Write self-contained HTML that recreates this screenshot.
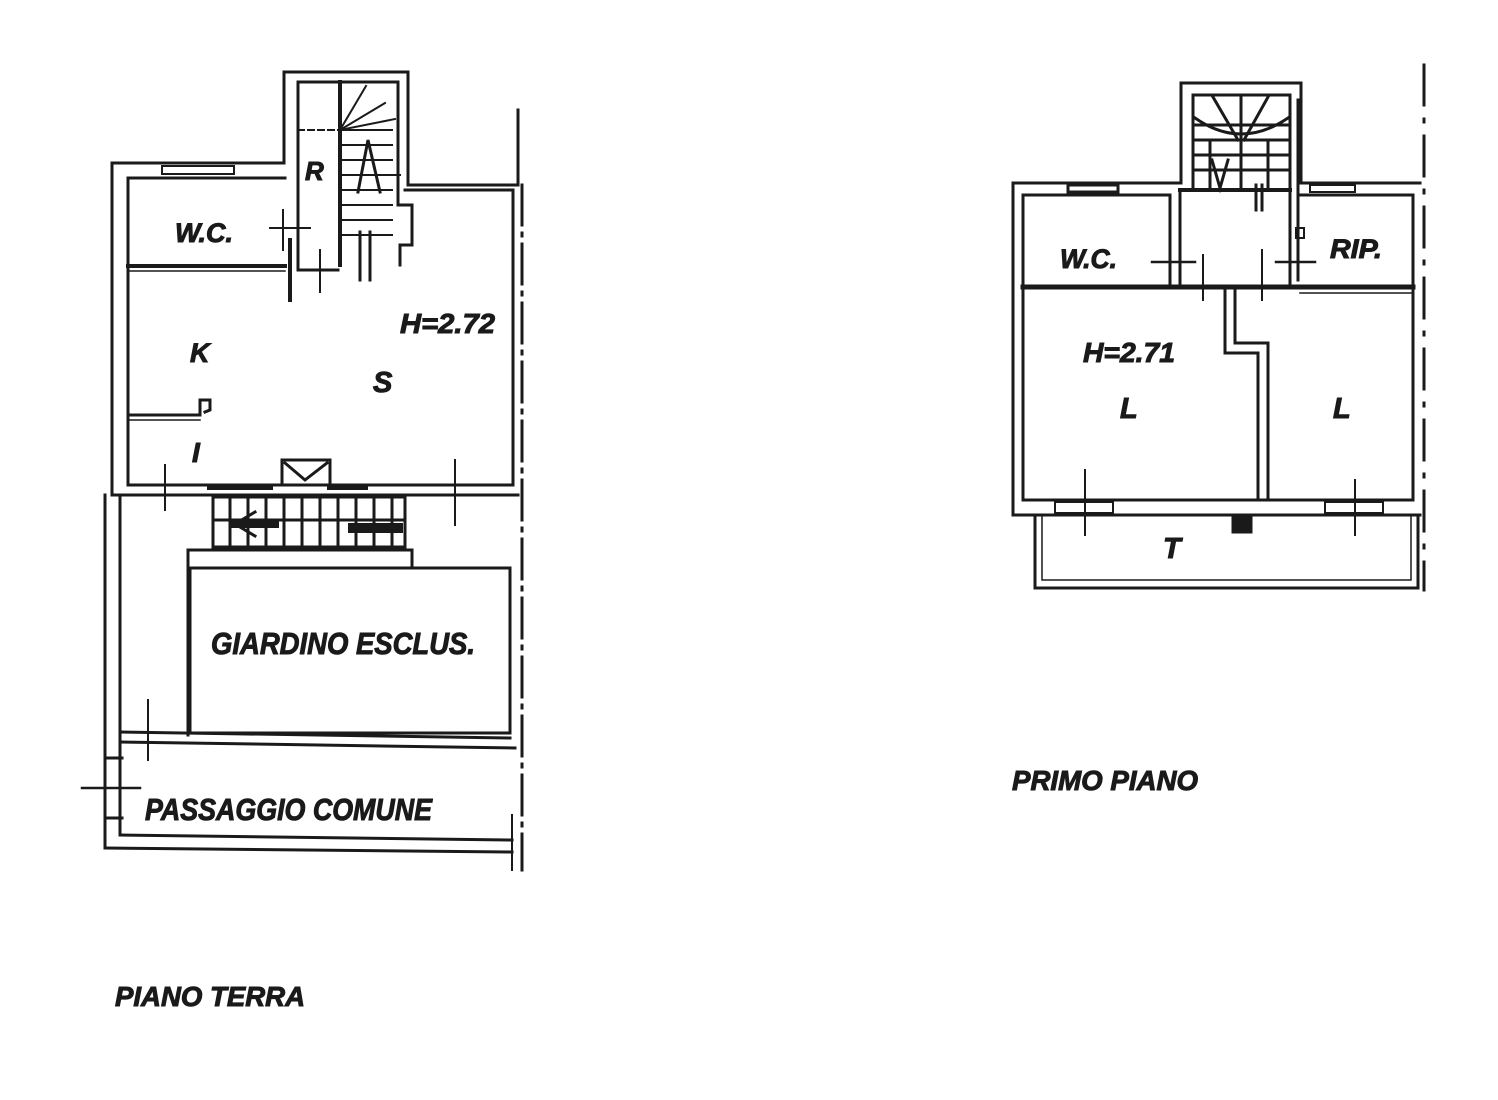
<!DOCTYPE html>
<html><head><meta charset="utf-8"><style>
html,body{margin:0;padding:0;background:#fff;}
svg{display:block;}
text{font-family:"Liberation Sans Narrow","Liberation Sans",sans-serif;font-weight:bold;font-style:italic;fill:#1a1a1a;stroke:#1a1a1a;stroke-width:1;}
</style></head><body>
<svg width="1498" height="1100" viewBox="0 0 1498 1100" xmlns="http://www.w3.org/2000/svg">
<g stroke="#1a1a1a" fill="none" stroke-width="3" stroke-linecap="square">
<!-- LEFT PLAN -->
<polyline points="112,495 112,163 284,163 284,72 408,72 408,185 518,185"/>
<polyline points="128,485 128,178 285,178"/>
<polyline points="298,268 298,82 398,82 398,205 412,205 412,245 400,245 400,265"/>
<line x1="513" y1="190" x2="513" y2="485"/>
<line x1="405" y1="190" x2="513" y2="190"/>
<line x1="518" y1="110" x2="518" y2="185"/>
<line x1="522" y1="185" x2="522" y2="870" stroke-dasharray="40,8,3,8"/>
<rect x="162" y="166" width="72" height="8" stroke-width="2"/>
<line x1="340" y1="82" x2="340" y2="265" stroke-width="4"/>
<line x1="298" y1="130" x2="340" y2="130" stroke-dasharray="6,4" stroke-width="2"/>
<line x1="340" y1="130" x2="392" y2="130" stroke-width="2"/>
<line x1="340" y1="130" x2="366" y2="86" stroke-width="2"/>
<line x1="340" y1="130" x2="385" y2="103" stroke-width="2"/>
<line x1="340" y1="130" x2="395" y2="119" stroke-width="2"/>
<line x1="340" y1="145" x2="392" y2="145" stroke-width="2"/>
<line x1="340" y1="160" x2="392" y2="160" stroke-width="2"/>
<line x1="340" y1="175" x2="400" y2="175" stroke-width="2"/>
<line x1="340" y1="190" x2="392" y2="190" stroke-width="2"/>
<line x1="340" y1="205" x2="392" y2="205" stroke-width="2"/>
<line x1="340" y1="220" x2="392" y2="220" stroke-width="2"/>
<line x1="340" y1="235" x2="392" y2="235" stroke-width="2"/>
<polyline points="358,192 368,140 380,192" stroke-width="3"/>
<line x1="360" y1="232" x2="360" y2="280" stroke-width="3"/>
<line x1="370" y1="232" x2="370" y2="280" stroke-width="3"/>
<polyline points="298,268 298,270 338,270"/>
<line x1="290" y1="240" x2="290" y2="300" stroke-width="4"/>
<line x1="270" y1="228" x2="310" y2="228" stroke-width="2"/>
<line x1="283" y1="210" x2="283" y2="250" stroke-width="2"/>
<line x1="320" y1="250" x2="320" y2="292" stroke-width="2"/>
<line x1="128" y1="266" x2="285" y2="266" stroke-width="4"/>
<line x1="128" y1="271" x2="285" y2="271" stroke-width="1.5"/>
<polyline points="128,415 200,415 200,400 210,400 210,410 205,412"/>
<line x1="128" y1="420" x2="200" y2="420" stroke-width="1.5"/>
<line x1="112" y1="495" x2="518" y2="495"/>
<line x1="128" y1="485" x2="513" y2="485"/>
<rect x="282" y="460" width="48" height="25" stroke-width="3"/>
<polyline points="285,463 305,480 327,463" stroke-width="3"/>
<line x1="165" y1="465" x2="165" y2="510" stroke-width="2"/>
<line x1="455" y1="460" x2="455" y2="525" stroke-width="2"/>
<line x1="210" y1="487" x2="270" y2="487" stroke-width="6"/>
<line x1="330" y1="487" x2="365" y2="487" stroke-width="6"/>
<rect x="213" y="497" width="192" height="50"/>
<g stroke-width="3">
<line x1="230" y1="497" x2="230" y2="547"/><line x1="248" y1="497" x2="248" y2="547"/>
<line x1="266" y1="497" x2="266" y2="547"/><line x1="284" y1="497" x2="284" y2="547"/>
<line x1="302" y1="497" x2="302" y2="547"/><line x1="320" y1="497" x2="320" y2="547"/>
<line x1="338" y1="497" x2="338" y2="547"/><line x1="356" y1="497" x2="356" y2="547"/>
<line x1="374" y1="497" x2="374" y2="547"/><line x1="392" y1="497" x2="392" y2="547"/>
<line x1="213" y1="520" x2="405" y2="520"/>
</g>
<line x1="235" y1="524" x2="275" y2="524" stroke-width="8"/>
<polyline points="255,512 235,524 255,536" stroke-width="3"/>
<line x1="353" y1="528" x2="398" y2="528" stroke-width="10"/>
<polyline points="188,735 188,550 412,550 412,567"/>
<rect x="190" y="568" width="320" height="165"/>
<line x1="105" y1="495" x2="105" y2="848"/>
<line x1="120" y1="495" x2="120" y2="835"/>
<line x1="120" y1="732" x2="510" y2="738"/>
<line x1="120" y1="742" x2="515" y2="748"/>
<line x1="120" y1="835" x2="512" y2="840"/>
<line x1="105" y1="848" x2="512" y2="852"/>
<line x1="512" y1="815" x2="512" y2="870" stroke-width="2"/>
<line x1="148" y1="700" x2="148" y2="760" stroke-width="2"/>
<line x1="82" y1="788" x2="140" y2="788" stroke-width="2.5"/>
<line x1="105" y1="758" x2="122" y2="758" stroke-width="3"/>
<line x1="105" y1="818" x2="122" y2="818" stroke-width="3"/>

<!-- RIGHT PLAN -->
<polyline points="1013,515 1013,183 1181,183 1181,83 1301,83 1301,183 1420,183"/>
<polyline points="1023,500 1023,195 1170,195 1170,283"/>
<polyline points="1193,190 1193,95 1290,95 1290,190"/>
<line x1="1298" y1="100" x2="1298" y2="280" stroke-width="3"/>
<polyline points="1298,195 1413,195 1413,500"/>
<line x1="1180" y1="190" x2="1180" y2="285"/>
<line x1="1180" y1="190" x2="1290" y2="190" stroke-width="4"/>
<line x1="1290" y1="190" x2="1290" y2="285"/>
<rect x="1068" y="185" width="50" height="7" stroke-width="3"/>
<rect x="1310" y="185" width="45" height="7" stroke-width="2"/>
<line x1="1023" y1="287" x2="1413" y2="287" stroke-width="5"/>
<line x1="1300" y1="293" x2="1413" y2="293" stroke-width="1.5"/>
<g stroke-width="3">
<line x1="1193" y1="125" x2="1290" y2="125"/>
<line x1="1193" y1="140" x2="1290" y2="140"/>
<line x1="1193" y1="155" x2="1290" y2="155"/>
<line x1="1193" y1="170" x2="1290" y2="170"/>
<line x1="1241" y1="95" x2="1241" y2="190"/>
<line x1="1210" y1="140" x2="1210" y2="190"/>
<line x1="1268" y1="140" x2="1268" y2="190"/>
<line x1="1213" y1="97" x2="1238" y2="140"/>
<line x1="1268" y1="97" x2="1244" y2="140"/>
<path d="M1195,118 Q1241,150 1288,118"/>
<polyline points="1212,160 1220,188 1228,160"/>
<line x1="1256" y1="185" x2="1256" y2="210"/>
<line x1="1262" y1="185" x2="1262" y2="210"/>
</g>
<line x1="1152" y1="262" x2="1195" y2="262" stroke-width="2.5"/>
<line x1="1170" y1="240" x2="1170" y2="280" stroke-width="3"/>
<line x1="1276" y1="262" x2="1315" y2="262" stroke-width="2.5"/>
<line x1="1298" y1="240" x2="1298" y2="280" stroke-width="3"/>
<rect x="1296" y="228" width="8" height="10" stroke-width="2"/>
<line x1="1203" y1="255" x2="1203" y2="300" stroke-width="2"/>
<line x1="1262" y1="250" x2="1262" y2="300" stroke-width="2"/>
<polyline points="1225,290 1225,353 1258,353 1258,500"/>
<polyline points="1235,290 1235,343 1268,343 1268,500"/>
<line x1="1023" y1="500" x2="1413" y2="500"/>
<line x1="1013" y1="515" x2="1420" y2="515"/>
<rect x="1055" y="502" width="58" height="11" stroke-width="2"/>
<rect x="1325" y="502" width="58" height="11" stroke-width="2"/>
<line x1="1085" y1="470" x2="1085" y2="535" stroke-width="2"/>
<line x1="1355" y1="480" x2="1355" y2="535" stroke-width="2"/>
<polyline points="1035,515 1035,588 1418,588 1418,515"/>
<polyline points="1042,517 1042,580 1411,580 1411,517" stroke-width="1.5"/>
<rect x="1233" y="515" width="18" height="17" fill="#1a1a1a"/>
<line x1="1424" y1="65" x2="1424" y2="590" stroke-dasharray="40,14,3,14"/>
</g>
<g>
<text x="175" y="242" font-size="27" textLength="58" lengthAdjust="spacingAndGlyphs">W.C.</text>
<text x="305" y="180" font-size="26">R</text>
<text x="400" y="333" font-size="28" textLength="95" lengthAdjust="spacingAndGlyphs">H=2.72</text>
<text x="190" y="362" font-size="27">K</text>
<text x="373" y="392" font-size="29">S</text>
<text x="192" y="462" font-size="28">I</text>
<text x="211" y="654" font-size="31" textLength="264" lengthAdjust="spacingAndGlyphs">GIARDINO ESCLUS.</text>
<text x="145" y="820" font-size="31" textLength="287" lengthAdjust="spacingAndGlyphs">PASSAGGIO COMUNE</text>
<text x="115" y="1006" font-size="28" textLength="190" lengthAdjust="spacingAndGlyphs">PIANO TERRA</text>
<text x="1060" y="268" font-size="27" textLength="57" lengthAdjust="spacingAndGlyphs">W.C.</text>
<text x="1330" y="258" font-size="27" textLength="52" lengthAdjust="spacingAndGlyphs">RIP.</text>
<text x="1083" y="362" font-size="28" textLength="92" lengthAdjust="spacingAndGlyphs">H=2.71</text>
<text x="1120" y="418" font-size="29">L</text>
<text x="1333" y="418" font-size="29">L</text>
<text x="1163" y="558" font-size="29">T</text>
<text x="1012" y="790" font-size="28" textLength="186" lengthAdjust="spacingAndGlyphs">PRIMO PIANO</text>
</g>
</svg>
</body></html>
